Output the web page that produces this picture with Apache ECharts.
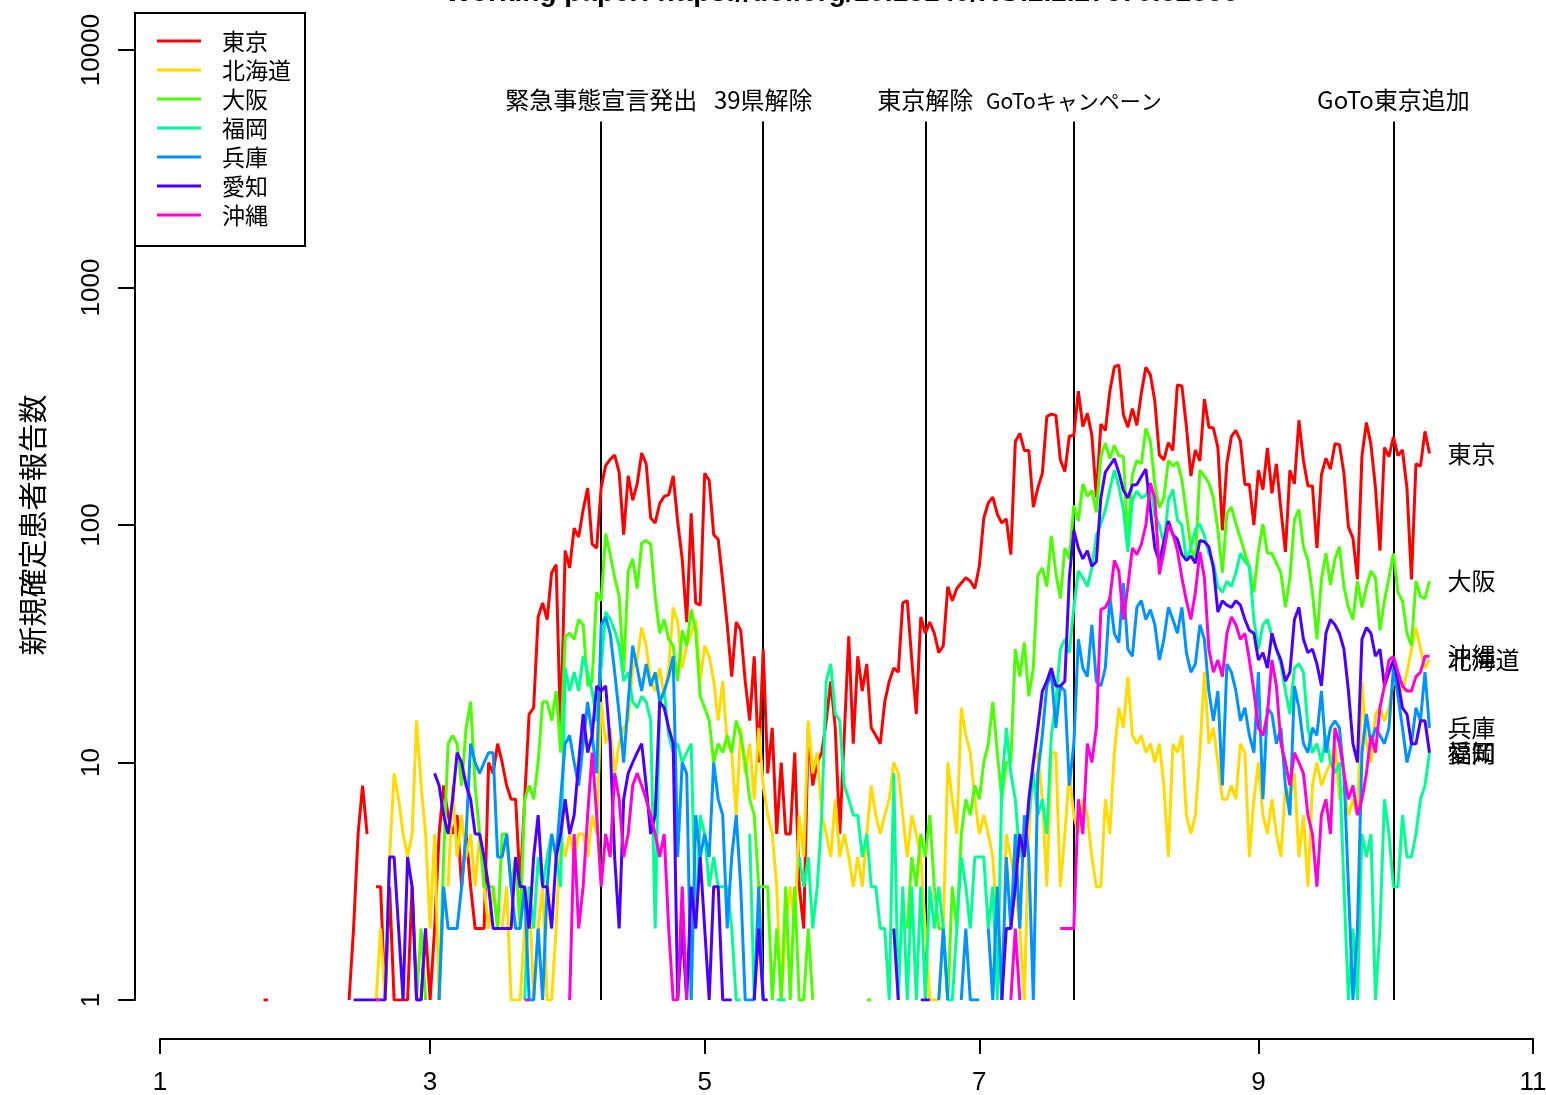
<!DOCTYPE html>
<html>
<head>
<meta charset="utf-8">
<script src="https://cdn.jsdelivr.net/npm/echarts@6/dist/echarts.min.js"></script>
<style>
  html, body { margin: 0; padding: 0; background: #ffffff; }
  #chart { width: 1546px; height: 1095px; }
</style>
</head>
<body>
<div id="chart"></div>
<script>
// Daily newly confirmed COVID-19 cases per prefecture, 2020.
// Day numbers count from 1 January 2020 (= day 1). Each run is [first day, counts...];
// days that fall between runs had no reported case and leave a gap in the line.
const tokyoRuns = [
  [24, [1, 1]],
  [43, [1, 2, 5, 8, 5]],
  [49, [3, 3, 1, 3, 1, 1, 1, 1, 3, 1,
        1, 2, 1, 2, 5, 8, 6, 5, 6, 3,
        5, 3, 2, 2, 2, 10, 9, 12, 10, 8,
        7, 7, 3, 7, 16, 17, 41, 47, 40, 63,
        68, 13, 78, 66, 97, 89, 116, 143, 83, 80,
        144, 178, 189, 197, 166, 91, 161, 127, 149, 201,
        181, 107, 102, 123, 132, 134, 161, 103, 72, 39,
        112, 47, 46, 165, 154, 91, 87, 58, 38, 23,
        39, 36, 22, 15, 28, 10, 30, 9, 14, 5,
        10, 5, 5, 11, 3, 2, 14, 8, 10, 11,
        15, 22, 14, 5, 13, 34, 12, 28, 20, 26,
        14, 13, 12, 18, 22, 25, 24, 47, 48, 27,
        16, 41, 35, 39, 35, 29, 31, 55, 48, 54,
        57, 60, 58, 54, 67, 107, 124, 131, 111, 102,
        106, 75, 224, 243, 206, 206, 119, 143, 165, 286,
        293, 290, 188, 168, 237, 238, 366, 260, 295, 239,
        131, 266, 250, 367, 463, 472, 292, 258, 309, 263,
        360, 462, 429, 331, 197, 188, 222, 206, 389, 385,
        260, 161, 207, 186, 339, 258, 256, 212, 95, 182,
        236, 250, 226, 148, 148, 100, 170, 141, 211, 136,
        181, 116, 77, 170, 149, 276, 187, 146, 146, 80,
        163, 191, 172, 220, 218, 165, 98, 88, 59, 195,
        270, 218, 144, 78, 212, 194, 235, 196, 207, 143,
        59, 181, 177, 248, 200]]
];

const hokkaidoRuns = [
  [49, [1, 2, 1, 4, 9, 7, 5, 4, 5, 15, 8, 5, 2, 5, 1]],
  [65, [3, 8, 4, 6, 4, 5, 3, 5, 3, 2,
        3, 2, 2, 3, 1, 1, 1, 2, 3, 1,
        2, 3, 1, 1, 2, 5, 4, 5, 4, 5,
        5, 4, 6, 5, 18, 12, 14, 9, 12, 14,
        15, 25, 27, 37, 31, 22, 20, 25, 19, 25,
        45, 39, 25, 31, 35, 40, 22, 31, 28, 22,
        15, 22, 12, 11, 6, 14, 9, 12, 7, 14,
        8, 6, 5, 3, 1, 2, 3, 2, 6, 4,
        15, 9, 11, 6, 5, 4, 7, 4, 5, 4,
        3, 4, 3, 5, 8, 6, 5, 6, 7, 10,
        9, 6, 4, 6, 5, 4, 2, 1, 1, 1,
        2, 10, 7, 5, 17, 13, 11, 7, 5, 6,
        5, 4, 2, 1, 5, 4, 3, 2, 1, 5,
        10, 11, 7, 3, 11, 11, 3, 5, 9, 6,
        5, 7, 6, 4, 3, 3, 7, 5, 11, 17,
        14, 23, 13, 12, 13, 11, 12, 10, 12, 8,
        4, 12, 11, 13, 6, 5, 6, 11, 24, 12,
        14, 10, 7, 7, 8, 7, 12, 11, 4, 7,
        10, 6, 5, 7, 5, 4, 8, 7, 9, 4,
        6, 3, 8, 10, 8, 9, 10, 12, 7, 8,
        6, 7, 6, 22, 12, 10, 16, 17, 15, 17,
        22, 21, 20, 24, 30, 37, 30, 25, 27]]
];

const osakaRuns = [
  [58, [1, 2, 1]],
  [63, [1, 4, 12, 13, 12, 8, 14, 18, 8, 5,
        3, 3, 3, 2, 5, 5, 3, 4, 2, 7,
        8, 7, 10, 18, 18, 15, 20, 11, 34, 35,
        33, 40, 38, 21, 22, 52, 48, 92, 75, 60,
        50, 24, 64, 72, 54, 84, 86, 83, 50, 35,
        40, 33, 31, 22, 36, 31, 44, 36, 19, 17,
        15, 10, 12, 11, 13, 11, 15, 13, 10, 7,
        6, 3, 3, 3, 1, 2, 1, 3, 1, 3,
        1, 1, 2, 1]],
  [158, [1, 1]],
  [167, [2, 4, 3, 5, 4, 6, 3, 2, 2, 1,
         3, 2, 5, 7, 6, 8, 7, 10, 12, 18,
         11, 7, 10, 10, 30, 23, 32, 19, 25, 61,
         66, 55, 90, 63, 49, 80, 72, 121, 104, 149,
         132, 140, 113, 195, 221, 190, 216, 196, 194, 88,
         163, 187, 181, 255, 225, 148, 118, 130, 187, 177,
         184, 155, 112, 80, 71, 170, 161, 150, 130, 95,
         63, 112, 119, 101, 88, 76, 66, 52, 78, 101,
         76, 76, 69, 63, 45, 60, 105, 116, 81, 71,
         52, 33, 59, 76, 56, 72, 81, 55, 45, 40,
         58, 45, 55, 64, 60, 36, 48, 60, 76, 52,
         48, 35, 31, 58, 50, 49, 58]]
];

const fukuokaRuns = [
  [82, [1, 3, 2, 4, 3, 4, 5, 4, 3, 25,
        20, 24, 20, 28, 24, 20, 15, 25, 43, 40,
        36, 31, 22, 24, 18, 17, 19, 18, 15, 2,
        18, 20, 13, 11, 12, 10, 11, 12, 2, 6,
        5, 3, 4, 3, 3, 3, 2, 1, 1]],
  [132, [5, 1]],
  [138, [1, 1, 1]],
  [143, [4, 3, 4, 2, 3, 6, 22, 26, 16, 15,
         8, 7, 6, 6, 4, 5, 3, 3, 2, 2,
         1, 9, 1, 3, 1, 3, 1, 3, 1, 3,
         2, 3, 2, 1, 1, 2, 4, 3, 2, 4,
         4, 4, 2, 3, 1, 8, 14, 9, 7, 4,
         5, 6, 9, 6, 7, 5, 13, 18, 30, 33,
         29, 45, 64, 60, 55, 66, 90, 101, 116, 141,
         170, 145, 116, 77, 127, 139, 130, 133, 150, 110,
         100, 83, 127, 141, 105, 100, 71, 80, 96, 101,
         90, 76, 69, 55, 52, 58, 55, 63, 76, 70,
         67, 40, 30, 38, 40, 34, 30, 26, 20, 16,
         25, 26, 24, 14, 11, 12, 10, 13, 10, 9,
         10, 3, 1, 2, 1, 5, 4, 5, 1, 2,
         7, 5, 3, 3, 6, 4, 4, 5, 7, 8,
         11]]
];

const hyogoRuns = [
  [63, [1, 3, 2, 2, 2, 3, 5, 12, 10, 9,
        10, 11, 11, 4, 4, 5, 3, 2, 2, 3,
        1, 1, 2, 1, 3, 5, 4, 7, 12, 13,
        10, 8, 12, 18, 13, 9, 38, 41, 35, 24,
        16, 10, 18, 31, 25, 20, 26, 21, 24, 18,
        20, 23, 28, 4, 10, 9, 1, 6, 4, 5,
        4, 10, 7, 6, 2, 4, 6, 3, 1, 1,
        1, 3, 1]],
  [174, [1, 2, 1]],
  [179, [1, 2, 1, 1, 1]],
  [185, [2, 1, 3, 1, 4, 2, 5, 2, 6, 4,
         1, 9, 13, 21, 24, 14, 21, 20, 8, 12,
         33, 25, 23, 38, 22, 21, 25, 50, 35, 32,
         57, 30, 28, 45, 48, 40, 44, 38, 27, 33,
         45, 40, 35, 45, 29, 24, 26, 38, 33, 20,
         15, 20, 8, 26, 24, 20, 15, 17, 13, 11,
         24, 7, 17, 16, 12, 14, 8, 6, 21, 17,
         12, 11, 14, 13, 20, 11, 14, 15, 14, 9,
         3, 1, 2, 11, 16, 12, 14, 13, 12, 14,
         25, 19, 14, 10, 12, 17, 15, 24, 14]]
];

const aichiRuns = [
  [44, [1, 1, 1, 1, 1, 1, 1, 1, 4, 4, 2, 1, 4, 3, 1, 1, 2]],
  [62, [9, 8, 6, 5, 7, 11, 10, 8, 7, 5,
        5, 4, 3, 2, 2, 2, 2, 2, 4, 3,
        3, 2, 4, 6, 3, 3, 2, 4, 5, 7,
        5, 6, 10, 16, 11, 13, 21, 20, 21, 12,
        4, 2, 7, 9, 10, 11, 12, 8, 5, 6,
        18, 17, 14, 12, 1, 2, 1, 3, 2, 4,
        2, 1, 3, 3, 1, 1, 1]],
  [133, [1, 2, 1, 1]],
  [164, [2, 1]],
  [170, [1, 1, 1]],
  [188, [1, 2, 2, 3, 5, 4, 7, 10, 14, 20,
         22, 25, 21, 21, 22, 60, 95, 80, 72, 78,
         67, 70, 130, 167, 178, 190, 166, 140, 130, 147,
         148, 160, 172, 116, 80, 70, 85, 104, 91, 87,
         75, 71, 74, 69, 86, 85, 81, 66, 43, 48,
         46, 45, 48, 46, 40, 36, 35, 27, 29, 25,
         35, 30, 27, 22, 24, 40, 45, 33, 29, 30,
         26, 21, 35, 40, 38, 35, 30, 20, 12, 10,
         33, 37, 35, 28, 30, 21, 24, 27, 22, 17,
         16, 12, 12, 15, 15, 11]]
];

const okinawaRuns = [
  [49, [1, 1]],
  [82, [1, 1]],
  [92, [1, 5, 2, 3, 6, 11, 6, 3, 5, 4,
        9, 7, 4, 5, 8, 9, 8, 7, 6, 5,
        4, 5, 2, 1, 1, 3, 1]],
  [190, [1, 2, 1]],
  [201, [2, 2, 2, 2, 7, 5, 12, 10, 14, 44,
         45, 49, 71, 64, 40, 55, 80, 75, 83, 100,
         150, 130, 62, 77, 100, 92, 78, 60, 48, 40,
         52, 77, 60, 30, 24, 27, 23, 35, 41, 38,
         33, 35, 27, 20, 14, 13, 16, 27, 21, 12,
         10, 8, 11, 10, 9, 6, 5, 3, 6, 7,
         5, 14, 12, 9, 7, 8, 6, 7, 9, 13,
         11, 17, 21, 27, 28, 24, 21, 20, 20, 23,
         24, 28, 28]]
];

// Policy milestones (day number, caption)
const eventDays = [99, 135, 171, 204, 275];
const eventLabels = ['緊急事態宣言発出', '39県解除', '東京解除', 'GoToキャンペーン', 'GoTo東京追加'];

// Axis ticks: first day of odd months on x, powers of ten on y
const monthTickDays = [1, 61, 122, 183, 245, 306];
const monthTickLabels = ['1', '3', '5', '7', '9', '11'];
const countTicks = [1, 10, 100, 1000, 10000];

const prefNames = ['東京', '北海道', '大阪', '福岡', '兵庫', '愛知', '沖縄'];
const prefColors = ['#FF0000', '#FFDB00', '#49FF00', '#00FF92', '#0092FF', '#4900FF', '#FF00DB'];
const prefRuns = [tokyoRuns, hokkaidoRuns, osakaRuns, fukuokaRuns, hyogoRuns, aichiRuns, okinawaRuns];

const CJK = "'Noto Sans CJK JP', 'Noto Sans CJK SC', sans-serif";
const NUM = "'Liberation Sans', sans-serif";

function toPoints(runs) {
  const pts = [];
  runs.forEach(function (run, i) {
    if (i > 0) pts.push([run[0] - 0.5, null]);
    run[1].forEach(function (v, j) { pts.push([run[0] + j, v]); });
  });
  return pts;
}

const prefSeries = prefNames.map(function (name, i) {
  return {
    name: name,
    type: 'line',
    data: toPoints(prefRuns[i]),
    showSymbol: false,
    symbol: 'none',
    connectNulls: false,
    z: 2,
    lineStyle: { color: prefColors[i], width: 3 },
    itemStyle: { color: prefColors[i] },
    emphasis: { disabled: true },
    endLabel: {
      show: true,
      formatter: '{a}',
      color: '#000',
      fontSize: 24,
      fontFamily: CJK,
      distance: 18
    }
  };
});

// The katakana caption is set a little tighter so it does not run into its neighbour
const eventSeries = {
  name: 'events',
  type: 'line',
  data: [],
  z: 1,
  markLine: {
    silent: true,
    z: 1,
    symbol: ['none', 'none'],
    animation: false,
    lineStyle: { color: '#000', width: 2, type: 'solid' },
    label: {
      show: true,
      position: 'end',
      formatter: '{b}',
      color: '#000',
      fontSize: 24,
      fontFamily: CJK,
      distance: 10
    },
    emphasis: { disabled: true },
    data: eventDays.map(function (d, i) {
      const start = { name: eventLabels[i], coord: [d, 1] };
      if (eventLabels[i] === 'GoToキャンペーン') start.label = { fontSize: 21 };
      return [start, { coord: [d, 5000] }];
    })
  }
};

const chart = echarts.init(document.getElementById('chart'), null, { renderer: 'canvas' });
chart.setOption({
  animation: false,
  backgroundColor: '#ffffff',
  title: {
    text: 'Working paper: https://doi.org/10.13140/RG.2.2.27370.82886',
    left: 440,
    top: -26,
    textStyle: { fontSize: 28, fontWeight: 'bold', color: '#000', fontFamily: "'Liberation Sans', sans-serif" }
  },
  grid: { left: 160, right: 13, top: 50, bottom: 95, containLabel: false, outerBoundsMode: 'none' },
  legend: {
    orient: 'vertical',
    left: 135,
    top: 13,
    data: prefNames,
    icon: 'rect',
    itemWidth: 44,
    itemHeight: 3,
    itemGap: 5,
    padding: [16, 14, 19, 22],
    backgroundColor: '#fff',
    borderColor: '#000',
    borderWidth: 2,
    borderRadius: 0,
    selectedMode: false,
    textStyle: { fontSize: 23, lineHeight: 24, color: '#000', fontFamily: CJK, padding: [0, 0, 0, 16] }
  },
  xAxis: {
    type: 'value',
    min: 1,
    max: 306,
    offset: 39,
    splitLine: { show: false },
    axisLine: { show: true, lineStyle: { color: '#000', width: 2 } },
    axisTick: { show: true, length: 15, lineStyle: { color: '#000', width: 2 }, customValues: monthTickDays },
    axisLabel: {
      show: true,
      customValues: monthTickDays,
      formatter: function (v) { return monthTickLabels[monthTickDays.indexOf(Math.round(v))]; },
      color: '#000',
      fontSize: 26,
      fontFamily: NUM,
      margin: 31
    }
  },
  yAxis: {
    type: 'log',
    logBase: 10,
    min: 1,
    max: 10000,
    offset: 25,
    name: '新規確定患者報告数',
    nameLocation: 'middle',
    nameRotate: 90,
    nameGap: 88,
    nameMoveOverlap: false,
    nameTextStyle: { fontSize: 29, fontFamily: CJK, color: '#000' },
    splitLine: { show: false },
    axisLine: { show: true, lineStyle: { color: '#000', width: 2 } },
    axisTick: { show: true, length: 17, lineStyle: { color: '#000', width: 2 }, customValues: countTicks },
    axisLabel: {
      show: true,
      rotate: 90,
      customValues: countTicks,
      formatter: function (v) { return String(Math.round(v)); },
      color: '#000',
      fontSize: 26,
      fontFamily: NUM,
      margin: 30
    }
  },
  series: [eventSeries].concat(prefSeries)
});
</script>
</body>
</html>
